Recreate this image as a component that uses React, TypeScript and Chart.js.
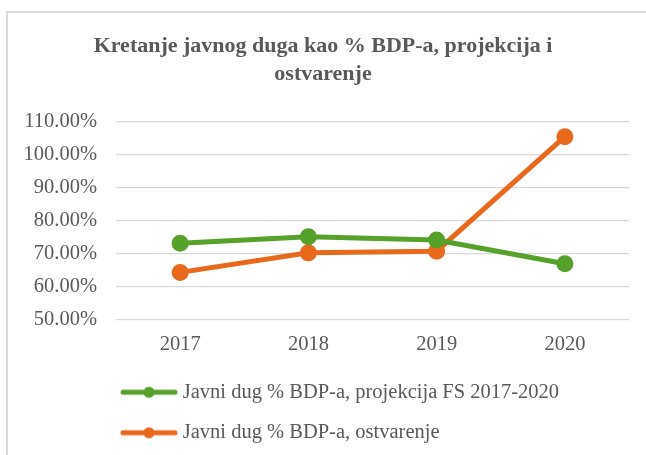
import React, { useEffect, useRef } from "react";
import { Chart, registerables } from "chart.js";

Chart.register(...registerables);

const categories = ["2017", "2018", "2019", "2020"];
const projectionValues = [73.1, 75.1, 74.1, 66.9];
const actualValues = [64.3, 70.2, 70.7, 105.3];
const seriesLabels = [
  "Javni dug % BDP-a, projekcija FS 2017-2020",
  "Javni dug % BDP-a, ostvarenje",
];
const titleLines = ["Kretanje javnog duga kao % BDP-a, projekcija i", "ostvarenje"];
const yMin = 50;
const yMax = 110;
const yStep = 10;

const GREEN = "#56a12a";
const ORANGE = "#e8681c";
const TEXT = "#595959";
const FONT = "'Liberation Serif', 'Times New Roman', serif";
const LABEL_SIZE = 20.5;

function makeMarker(color: string): HTMLCanvasElement {
  const c = document.createElement("canvas");
  c.width = 58;
  c.height = 14;
  const ctx = c.getContext("2d")!;
  ctx.strokeStyle = color;
  ctx.lineWidth = 5;
  ctx.lineCap = "round";
  ctx.beginPath();
  ctx.moveTo(3, 7);
  ctx.lineTo(55, 7);
  ctx.stroke();
  ctx.fillStyle = color;
  ctx.beginPath();
  ctx.arc(29, 7, 5.5, 0, Math.PI * 2);
  ctx.fill();
  return c;
}

const legendPlacer = {
  id: "legendPlacer",
  afterLayout(chart: any) {
    if (chart.legend) {
      chart.legend.left = 105.5;
      chart.legend.top = 362;
    }
  },
};

export default function App() {
  const ref = useRef<HTMLCanvasElement | null>(null);

  useEffect(() => {
    if (!ref.current) return;
    const markers = [makeMarker(GREEN), makeMarker(ORANGE)];
    const chart = new Chart(ref.current, {
      type: "line",
      data: {
        labels: categories,
        datasets: [
          {
            label: seriesLabels[0],
            data: projectionValues,
            borderColor: GREEN,
            backgroundColor: GREEN,
            borderWidth: 5,
            pointRadius: 6,
            pointBackgroundColor: GREEN,
            pointBorderColor: GREEN,
            tension: 0,
          },
          {
            label: seriesLabels[1],
            data: actualValues,
            borderColor: ORANGE,
            backgroundColor: ORANGE,
            borderWidth: 5,
            pointRadius: 6,
            pointBackgroundColor: ORANGE,
            pointBorderColor: ORANGE,
            tension: 0,
          },
        ],
      },
      plugins: [legendPlacer],
      options: {
        animation: false,
        responsive: false,
        maintainAspectRatio: false,
        layout: { padding: { left: 17, right: 17, top: 18, bottom: 5.3 } },
        plugins: {
          title: {
            display: true,
            text: titleLines,
            color: TEXT,
            font: { family: FONT, size: 22, weight: "bold", lineHeight: 1.27 },
            padding: { top: 14, bottom: 33.3 },
          },
          legend: {
            display: true,
            position: "bottom",
            align: "start",
            labels: {
              color: TEXT,
              font: { family: FONT, size: LABEL_SIZE },
              usePointStyle: true,
              pointStyleWidth: 47,
              padding: 20,
              generateLabels: (ch: any) =>
                ch.data.datasets.map((ds: any, i: number) => ({
                  text: ds.label,
                  fillStyle: ds.borderColor,
                  strokeStyle: ds.borderColor,
                  lineWidth: 0,
                  pointStyle: markers[i],
                  hidden: false,
                  datasetIndex: i,
                  fontColor: TEXT,
                })),
            },
          },
          tooltip: { enabled: false },
        },
        scales: {
          x: {
            offset: true,
            grid: { display: false, drawTicks: false },
            border: { display: false },
            ticks: {
              color: TEXT,
              font: { family: FONT, size: LABEL_SIZE },
              padding: 13,
            },
            afterFit: (scale: any) => {
              scale.height = 39;
            },
          },
          y: {
            min: yMin,
            max: yMax,
            grid: { color: "#d9d9d9", lineWidth: 1.3, drawTicks: false },
            border: { display: false },
            ticks: {
              stepSize: yStep,
              color: TEXT,
              font: { family: FONT, size: LABEL_SIZE },
              padding: 19,
              callback: (v: any) => Number(v).toFixed(2) + "%",
            },
            afterFit: (scale: any) => {
              scale.width = 99;
            },
          },
        },
      },
    });
    return () => chart.destroy();
  }, []);

  return (
    <div
      style={{
        position: "fixed",
        left: 0,
        top: 0,
        width: 646,
        height: 455,
        overflow: "hidden",
        background: "#fff",
      }}
    >
      <div
        style={{
          position: "absolute",
          left: 6,
          top: 11,
          width: 700,
          height: 500,
          border: "2px solid #d9d9d9",
          boxSizing: "border-box",
        }}
      />
      <canvas
        ref={ref}
        width={646}
        height={455}
        style={{ position: "absolute", left: 0, top: 0, width: 646, height: 455 }}
      />
    </div>
  );
}
